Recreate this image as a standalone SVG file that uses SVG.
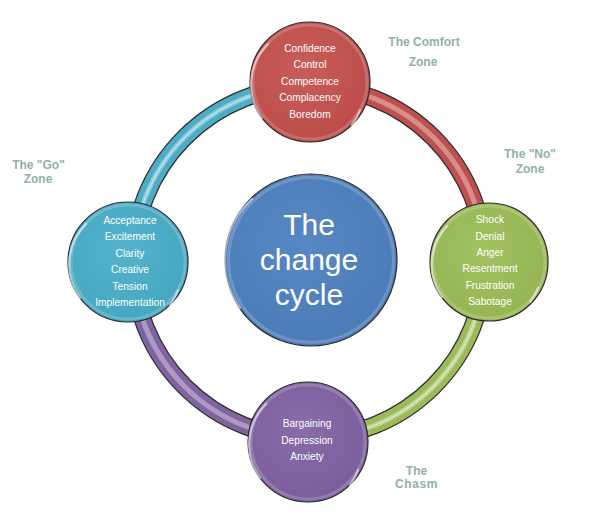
<svg xmlns="http://www.w3.org/2000/svg" width="591" height="512" viewBox="0 0 591 512">
<style>
.t{font-family:"Liberation Sans",Arial,sans-serif;font-size:10.2px;fill:#ffffff;text-anchor:middle}
.big{font-family:"Liberation Sans",Arial,sans-serif;font-size:30px;fill:#ffffff;text-anchor:middle}
.z{font-family:"Liberation Sans",Arial,sans-serif;font-size:12px;font-weight:bold;fill:#8fb1a7;text-anchor:middle}
.edge{fill:none;stroke:#2e2e2e;stroke-width:18}
.glow{fill:none;stroke:#ffffff;stroke-opacity:0.35;stroke-width:5}
.glow2{fill:none;stroke:#ffffff;stroke-opacity:0.45;stroke-width:1.5}
.ring{stroke:#2b2b2b;stroke-width:1.2}
.hl{fill:none;stroke:#ffffff;stroke-opacity:0.55;stroke-width:2.2;stroke-linecap:round}
.hl2{fill:none;stroke:#ffffff;stroke-opacity:0.18;stroke-width:3}
</style>
<defs>
<radialGradient id="gR" cx="0.45" cy="0.4" r="0.65"><stop offset="0" stop-color="#c95d5a"/><stop offset="1" stop-color="#bb4b48"/></radialGradient>
<radialGradient id="gG" cx="0.45" cy="0.4" r="0.65"><stop offset="0" stop-color="#a2c262"/><stop offset="1" stop-color="#94b452"/></radialGradient>
<radialGradient id="gP" cx="0.45" cy="0.4" r="0.65"><stop offset="0" stop-color="#876ca9"/><stop offset="1" stop-color="#7a5e9c"/></radialGradient>
<radialGradient id="gC" cx="0.45" cy="0.4" r="0.65"><stop offset="0" stop-color="#54b3cc"/><stop offset="1" stop-color="#45a6c0"/></radialGradient>
<radialGradient id="gB" cx="0.45" cy="0.4" r="0.65"><stop offset="0" stop-color="#5788c3"/><stop offset="1" stop-color="#4a7bb7"/></radialGradient>
</defs>

<g id="connectors">
  <g id="arc-go">
    <path class="edge" d="M133,262 A176,176 0 0 1 309,86"/>
    <path d="M133,262 A176,176 0 0 1 309,86" fill="none" stroke="#4bacc6" stroke-width="15.5"/>
    <path class="glow" d="M133,262 A176,176 0 0 1 309,86"/>
    <path class="glow2" d="M133,262 A176,176 0 0 1 309,86"/>
  </g>
  <g id="arc-comfort">
    <path class="edge" d="M309,86 A176,176 0 0 1 485,262"/>
    <path d="M309,86 A176,176 0 0 1 485,262" fill="none" stroke="#c0504d" stroke-width="15.5"/>
    <path class="glow" d="M309,86 A176,176 0 0 1 485,262" stroke-opacity="0.12"/>
  </g>
  <g id="arc-no">
    <path class="edge" d="M485,262 A176,176 0 0 1 309,438"/>
    <path d="M485,262 A176,176 0 0 1 309,438" fill="none" stroke="#9bbb59" stroke-width="15.5"/>
    <path class="glow" d="M485,262 A176,176 0 0 1 309,438"/>
    <path class="glow2" d="M485,262 A176,176 0 0 1 309,438"/>
  </g>
  <g id="arc-chasm">
    <path class="edge" d="M309,438 A176,176 0 0 1 133,262"/>
    <path d="M309,438 A176,176 0 0 1 133,262" fill="none" stroke="#8064a2" stroke-width="15.5"/>
    <path class="glow" d="M309,438 A176,176 0 0 1 133,262" stroke-opacity="0.12"/>
  </g>
</g>

<g id="center">
  <circle cx="311" cy="260" r="86" fill="url(#gB)" class="ring"/>
  <circle cx="311" cy="260" r="82.5" class="hl2"/>
  <path class="hl" d="M240,308 A83,83 0 0 1 252,199"/>
  <text class="big" x="309" y="235">The</text>
  <text class="big" x="309" y="270">change</text>
  <text class="big" x="309" y="305">cycle</text>
</g>

<g id="comfort">
  <circle cx="310" cy="82" r="60" fill="url(#gR)" class="ring"/>
  <circle cx="310" cy="82" r="57" class="hl2"/>
  <path class="hl" d="M262,118 A57,57 0 0 1 268,44"/>
  <path class="hl" d="M360,110 A57,57 0 0 1 352,125" stroke-opacity="0.35"/>
  <text class="t" x="310" y="52">Confidence</text>
  <text class="t" x="310" y="68">Control</text>
  <text class="t" x="310" y="85">Competence</text>
  <text class="t" x="310" y="101">Complacency</text>
  <text class="t" x="310" y="118">Boredom</text>
</g>

<g id="no">
  <circle cx="489" cy="262" r="59" fill="url(#gG)" class="ring"/>
  <circle cx="489" cy="262" r="56" class="hl2"/>
  <path class="hl" d="M442,297 A56,56 0 0 1 447,226"/>
  <path class="hl" d="M538,288 A56,56 0 0 1 530,302" stroke-opacity="0.35"/>
  <text class="t" x="490" y="223">Shock</text>
  <text class="t" x="490" y="240">Denial</text>
  <text class="t" x="490" y="256">Anger</text>
  <text class="t" x="490" y="272">Resentment</text>
  <text class="t" x="490" y="289">Frustration</text>
  <text class="t" x="490" y="305">Sabotage</text>
</g>

<g id="chasm">
  <circle cx="308" cy="442" r="60" fill="url(#gP)" class="ring"/>
  <circle cx="308" cy="442" r="57" class="hl2"/>
  <path class="hl" d="M260,478 A57,57 0 0 1 266,404"/>
  <path class="hl" d="M358,470 A57,57 0 0 1 350,485" stroke-opacity="0.35"/>
  <text class="t" x="307" y="427">Bargaining</text>
  <text class="t" x="307" y="444">Depression</text>
  <text class="t" x="307" y="460">Anxiety</text>
</g>

<g id="go">
  <circle cx="128" cy="262" r="60" fill="url(#gC)" class="ring"/>
  <circle cx="128" cy="262" r="57" class="hl2"/>
  <path class="hl" d="M80,298 A57,57 0 0 1 86,224"/>
  <path class="hl" d="M178,290 A57,57 0 0 1 170,305" stroke-opacity="0.35"/>
  <text class="t" x="130" y="224">Acceptance</text>
  <text class="t" x="130" y="240">Excitement</text>
  <text class="t" x="130" y="256.5">Clarity</text>
  <text class="t" x="130" y="272.5">Creative</text>
  <text class="t" x="130" y="289.5">Tension</text>
  <text class="t" x="130" y="305.5">Implementation</text>
</g>

<g id="labels">
  <text class="z" x="424" y="46">The Comfort</text>
  <text class="z" x="423" y="66">Zone</text>
  <text class="z" x="530" y="157.5">The "No"</text>
  <text class="z" x="530" y="172.5">Zone</text>
  <text class="z" x="38.5" y="169">The "Go"</text>
  <text class="z" x="38" y="182.5">Zone</text>
  <text class="z" x="416.5" y="475">The</text>
  <text class="z" x="416.5" y="488" letter-spacing="0.6">Chasm</text>
</g>
</svg>
